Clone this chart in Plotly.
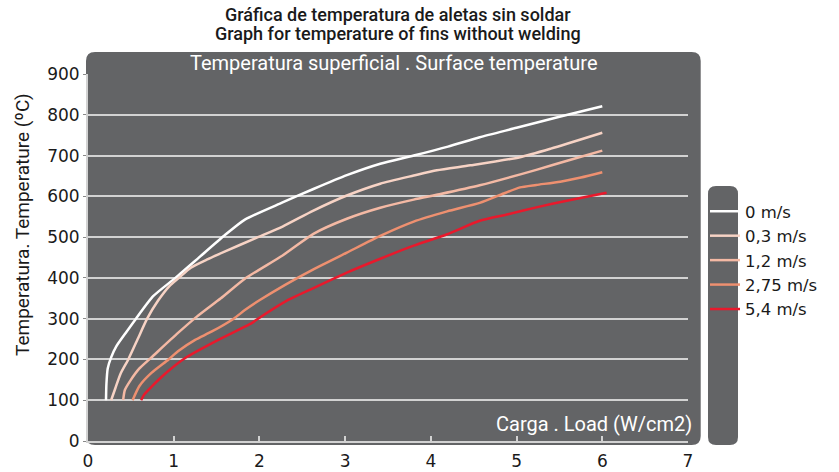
import plotly.graph_objects as go

# ---------------- data ----------------
series_names = ["0 m/s", "0,3 m/s", "1,2 m/s", "2,75 m/s", "5,4 m/s"]
series_colors = ["#ffffff", "#f7d3c5", "#f4b9a4", "#ee9070", "#e8192c"]

x_0 = [0.21, 0.215, 0.23, 0.27, 0.33, 0.45, 0.56, 0.76, 1.02, 1.29, 1.58, 1.83, 2.27, 2.63, 3.02, 3.41, 3.8, 4.2, 4.57, 5.0, 5.5, 6.0]
y_0 = [100, 140, 178, 205, 232, 268, 300, 355, 400, 449, 502, 543, 585, 618, 652, 680, 700, 722, 745, 768, 795, 821]

x_03 = [0.27, 0.32, 0.38, 0.47, 0.58, 0.69, 0.82, 0.95, 1.06, 1.2, 1.4, 1.6, 1.95, 2.27, 2.63, 3.02, 3.41, 3.8, 4.07, 4.46, 5.04, 5.4, 6.0]
y_03 = [100, 130, 165, 200, 250, 300, 345, 380, 400, 425, 446, 465, 497, 526, 565, 602, 631, 651, 664, 676, 696, 717, 756]

x_12 = [0.41, 0.43, 0.5, 0.6, 0.74, 1.05, 1.27, 1.55, 1.83, 2.27, 2.63, 3.02, 3.41, 3.8, 4.1, 4.57, 5.23, 5.6, 6.0]
y_12 = [100, 125, 150, 178, 205, 265, 305, 350, 398, 455, 508, 545, 572, 592, 605, 627, 665, 688, 712]

x_275 = [0.52, 0.6, 0.74, 0.94, 1.05, 1.25, 1.44, 1.7, 1.83, 2.0, 2.3, 2.63, 3.02, 3.41, 3.8, 4.19, 4.57, 4.85, 5.04, 5.23, 5.51, 5.75, 6.0]
y_275 = [100, 135, 167, 200, 220, 248, 268, 300, 321, 345, 383, 421, 462, 503, 538, 563, 584, 607, 622, 628, 636, 646, 659]

x_54 = [0.62, 0.66, 0.74, 0.9, 1.13, 1.52, 1.91, 1.97, 2.3, 2.63, 3.02, 3.41, 3.8, 4.19, 4.57, 4.9, 5.23, 5.6, 6.05]
y_54 = [100, 115, 133, 165, 203, 248, 289, 298, 342, 375, 413, 447, 479, 507, 540, 556, 573, 590, 609]

xs = [x_0, x_03, x_12, x_275, x_54]
ys = [y_0, y_03, y_12, y_275, y_54]

x_ticks = [0, 1, 2, 3, 4, 5, 6, 7]
y_ticks = [0, 100, 200, 300, 400, 500, 600, 700, 800, 900]

title_lines = ["Gráfica de temperatura de aletas sin soldar",
               "Graph for temperature of fins without welding"]
header_text = "Temperatura superficial . Surface temperature"
xlabel_text = "Carga . Load (W/cm2)"
ylabel_text = "Temperatura. Temperature (ºC)"

# ---------------- layout geometry ----------------
W, H = 839, 472
ML, MR, MT, MB = 88, 151, 74, 31
PW = W - ML - MR
PH = H - MT - MB
DARK = "#636466"
GRID = "#d2d2d2"


def px(xp):
    """pixel x -> paper fraction"""
    return (xp - ML) / PW


def py(yp):
    """pixel y -> paper fraction"""
    return (H - MB - yp) / PH


def rrect(x0, y0, x1, y1, r):
    pts = [
        ("M", (x0 + r, y0)), ("L", (x1 - r, y0)), ("Q", (x1, y0), (x1, y0 + r)),
        ("L", (x1, y1 - r)), ("Q", (x1, y1), (x1 - r, y1)),
        ("L", (x0 + r, y1)), ("Q", (x0, y1), (x0, y1 - r)),
        ("L", (x0, y0 + r)), ("Q", (x0, y0), (x0 + r, y0)),
    ]
    s = ""
    for p in pts:
        cmd = p[0]
        coords = " ".join(f"{px(a):.5f},{py(b):.5f}" for a, b in p[1:])
        s += f"{cmd} {coords} "
    return s + "Z"


fig = go.Figure()
for name, color, xv, yv in zip(series_names, series_colors, xs, ys):
    fig.add_trace(go.Scatter(
        x=xv, y=yv, name=name, mode="lines",
        line=dict(color=color, width=2.5, shape="spline", smoothing=0.6),
    ))

annots = [
    dict(text=title_lines[0], xref="paper", yref="paper", x=px(398), y=py(15),
         xanchor="center", yanchor="middle", showarrow=False,
         font=dict(family="Roboto", size=18, color="#1a1a1a", weight=500)),
    dict(text=title_lines[1], xref="paper", yref="paper", x=px(398), y=py(34),
         xanchor="center", yanchor="middle", showarrow=False,
         font=dict(family="Roboto", size=18, color="#1a1a1a", weight=500)),
    dict(text=header_text, xref="paper", yref="paper", x=px(394), y=py(63),
         xanchor="center", yanchor="middle", showarrow=False,
         font=dict(family="Roboto", size=20, color="white")),
    dict(text=xlabel_text, xref="paper", yref="paper", x=px(694), y=py(424),
         xanchor="right", yanchor="middle", showarrow=False,
         font=dict(family="Roboto", size=20, color="white")),
    dict(text=ylabel_text, xref="paper", yref="paper", x=px(22), y=py(225),
         xanchor="center", yanchor="middle", showarrow=False, textangle=-90,
         font=dict(family="Roboto", size=19, color="#1a1a1a")),
]

fig.update_layout(
    width=W, height=H,
    margin=dict(l=ML, r=MR, t=MT, b=MB, autoexpand=False),
    paper_bgcolor="white",
    plot_bgcolor="rgba(0,0,0,0)",
    font=dict(family="DejaVu Sans", size=17, color="#222222"),
    showlegend=True,
    legend=dict(
        x=px(705), xanchor="left", y=py(194), yanchor="top",
        bgcolor="rgba(0,0,0,0)", borderwidth=0,
        font=dict(family="DejaVu Sans", size=16.5, color="#1a1a1a"),
        tracegroupgap=0,
    ),
    shapes=[
        dict(type="path", xref="paper", yref="paper", path=rrect(86, 52, 700.7, 445, 9),
             fillcolor=DARK, line=dict(width=0), layer="below"),
        dict(type="path", xref="paper", yref="paper", path=rrect(708, 186, 738, 445, 8),
             fillcolor=DARK, line=dict(width=0), layer="below"),
    ],
    annotations=annots,
)

fig.update_xaxes(
    range=[0, 7], tickvals=x_ticks, ticktext=[str(v) for v in x_ticks],
    showgrid=False, zeroline=False,
    showline=True, linecolor=GRID, linewidth=2,
    ticks="inside", ticklen=5, tickcolor=GRID, tickwidth=1.5,
    ticklabelstandoff=4,
    tickfont=dict(family="DejaVu Sans", size=17, color="#1a1a1a"),
)
fig.update_yaxes(
    range=[0, 900], tickvals=y_ticks, ticktext=[str(v) for v in y_ticks],
    showgrid=True, gridcolor=GRID, gridwidth=1.5, zeroline=False,
    showline=True, linecolor=GRID, linewidth=2,
    ticks="outside", ticklen=3, tickcolor="#888888",
    tickfont=dict(family="DejaVu Sans", size=17, color="#1a1a1a"),
)

fig.write_html("out.html", config={"displayModeBar": False},
               post_script="document.body.style.margin='0px';")
